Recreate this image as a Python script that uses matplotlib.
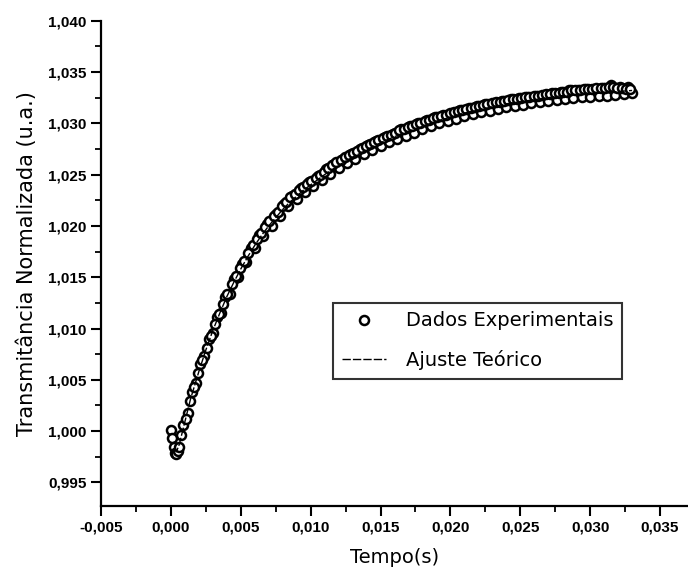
import matplotlib
matplotlib.use('Agg')
import matplotlib.pyplot as plt
from matplotlib.ticker import MultipleLocator, FuncFormatter

t_dados = [0.0000, 0.0001, 0.0002, 0.0003, 0.0004, 0.0005,
           0.0006, 0.0009, 0.0012, 0.0015, 0.0018, 0.0021, 0.0024, 0.0027, 0.0030,
           0.0033, 0.0036, 0.0039, 0.0042, 0.0045, 0.0048, 0.0051, 0.0054, 0.0057,
           0.0060, 0.0063, 0.0066, 0.0069, 0.0072, 0.0075, 0.0078, 0.0081, 0.0084,
           0.0087, 0.0090, 0.0093, 0.0096, 0.0099, 0.0102, 0.0105, 0.0108, 0.0111,
           0.0114, 0.0117, 0.0120, 0.0123, 0.0126, 0.0129, 0.0132, 0.0135, 0.0138,
           0.0141, 0.0144, 0.0147, 0.0150, 0.0153, 0.0156, 0.0159, 0.0162, 0.0165,
           0.0168, 0.0171, 0.0174, 0.0177, 0.0180, 0.0183, 0.0186, 0.0189, 0.0192,
           0.0195, 0.0198, 0.0201, 0.0204, 0.0207, 0.0210, 0.0213, 0.0216, 0.0219,
           0.0222, 0.0225, 0.0228, 0.0231, 0.0234, 0.0237, 0.0240, 0.0243, 0.0246,
           0.0249, 0.0252, 0.0255, 0.0258, 0.0261, 0.0264, 0.0267, 0.0270, 0.0273,
           0.0276, 0.0279, 0.0282, 0.0285, 0.0288, 0.0291, 0.0294, 0.0297, 0.0300,
           0.0303, 0.0306, 0.0309, 0.0312, 0.0315, 0.0318, 0.0321, 0.0324, 0.0327,
           0.0330]
y_dados = [1.0001, 0.9993, 0.9985, 0.9979, 0.9978, 0.9981,
           0.9985, 1.0006, 1.0018, 1.0038, 1.0047, 1.0065, 1.0073, 1.0090, 1.0096,
           1.0111, 1.0115, 1.0131, 1.0134, 1.0148, 1.0150, 1.0163, 1.0165, 1.0178,
           1.0178, 1.0191, 1.0190, 1.0202, 1.0200, 1.0212, 1.0210, 1.0221, 1.0219,
           1.0229, 1.0226, 1.0237, 1.0233, 1.0243, 1.0239, 1.0249, 1.0245, 1.0255,
           1.0251, 1.0260, 1.0256, 1.0265, 1.0261, 1.0270, 1.0265, 1.0275, 1.0270,
           1.0279, 1.0274, 1.0283, 1.0278, 1.0287, 1.0282, 1.0290, 1.0285, 1.0294,
           1.0288, 1.0297, 1.0291, 1.0300, 1.0294, 1.0303, 1.0297, 1.0306, 1.0300,
           1.0308, 1.0302, 1.0310, 1.0304, 1.0313, 1.0307, 1.0315, 1.0309, 1.0317,
           1.0311, 1.0319, 1.0312, 1.0320, 1.0314, 1.0322, 1.0316, 1.0324, 1.0317,
           1.0325, 1.0318, 1.0326, 1.0320, 1.0327, 1.0321, 1.0328, 1.0322, 1.0330,
           1.0323, 1.0331, 1.0324, 1.0332, 1.0325, 1.0332, 1.0326, 1.0333, 1.0326,
           1.0333, 1.0327, 1.0334, 1.0327, 1.0337, 1.0328, 1.0335, 1.0329, 1.0335,
           1.0330]

t_dados_b = [0.00075, 0.00105, 0.00135, 0.00165, 0.00195, 0.00225, 0.00255, 0.00285,
             0.00315, 0.00345, 0.00375, 0.00405, 0.00435, 0.00465, 0.00495, 0.00525,
             0.00555, 0.00585, 0.00615, 0.00645, 0.00675, 0.00705, 0.00735, 0.00765,
             0.00795, 0.00825, 0.00855, 0.00885, 0.00915, 0.00945, 0.00975, 0.01005,
             0.01035, 0.01065, 0.01095, 0.01125, 0.01155, 0.01185, 0.01215, 0.01245,
             0.01275, 0.01305, 0.01335, 0.01365, 0.01395, 0.01425, 0.01455, 0.01485,
             0.01515, 0.01545, 0.01575, 0.01605, 0.01635, 0.01665, 0.01695, 0.01725,
             0.01755, 0.01785, 0.01815, 0.01845, 0.01875, 0.01905, 0.01935, 0.01965,
             0.01995, 0.02025, 0.02055, 0.02085, 0.02115, 0.02145, 0.02175, 0.02205,
             0.02235, 0.02265, 0.02295, 0.02325, 0.02355, 0.02385, 0.02415, 0.02445,
             0.02475, 0.02505, 0.02535, 0.02565, 0.02595, 0.02625, 0.02655, 0.02685,
             0.02715, 0.02745, 0.02775, 0.02805, 0.02835, 0.02865, 0.02895, 0.02925,
             0.02955, 0.02985, 0.03015, 0.03045, 0.03075, 0.03105, 0.03135, 0.03165,
             0.03195, 0.03225, 0.03255, 0.03285]
y_dados_b = [0.9996, 1.0012, 1.0029, 1.0043, 1.0057, 1.0069, 1.0081, 1.0093,
             1.0104, 1.0114, 1.0124, 1.0134, 1.0143, 1.0151, 1.0159, 1.0166,
             1.0174, 1.0181, 1.0187, 1.0193, 1.0199, 1.0205, 1.0210, 1.0214,
             1.0219, 1.0223, 1.0228, 1.0231, 1.0235, 1.0238, 1.0241, 1.0244,
             1.0247, 1.0250, 1.0253, 1.0256, 1.0259, 1.0262, 1.0264, 1.0267,
             1.0269, 1.0271, 1.0273, 1.0276, 1.0278, 1.0280, 1.0282, 1.0284,
             1.0286, 1.0288, 1.0289, 1.0291, 1.0293, 1.0294, 1.0296, 1.0297,
             1.0299, 1.0300, 1.0302, 1.0303, 1.0305, 1.0306, 1.0307, 1.0308,
             1.0310, 1.0311, 1.0312, 1.0313, 1.0314, 1.0315, 1.0316, 1.0317,
             1.0318, 1.0319, 1.0320, 1.0321, 1.0321, 1.0322, 1.0323, 1.0324,
             1.0324, 1.0325, 1.0326, 1.0326, 1.0327, 1.0327, 1.0328, 1.0329,
             1.0329, 1.0330, 1.0330, 1.0331, 1.0331, 1.0332, 1.0332, 1.0332,
             1.0333, 1.0333, 1.0333, 1.0334, 1.0334, 1.0334, 1.0335, 1.0335,
             1.0334, 1.0334, 1.0333, 1.0333]

# theoretical fit
t_ajuste = [0.0002, 0.0004, 0.0006, 0.0008, 0.0010, 0.0012, 0.0014, 0.0016, 0.0018,
            0.0020, 0.0025, 0.0030, 0.0035, 0.0040, 0.0045, 0.0050, 0.0055, 0.0060,
            0.0065, 0.0070, 0.0075, 0.0080, 0.0085, 0.0090, 0.0095, 0.0100, 0.0110,
            0.0120, 0.0130, 0.0140, 0.0150, 0.0160, 0.0170, 0.0180, 0.0190, 0.0200,
            0.0210, 0.0220, 0.0230, 0.0240, 0.0250, 0.0260, 0.0270, 0.0280, 0.0290,
            0.0300, 0.0310, 0.0320, 0.0330]
y_ajuste = [0.9983, 0.9980, 0.9987, 0.9998, 1.0009, 1.0020, 1.0031, 1.0040, 1.0049,
            1.0058, 1.0079, 1.0098, 1.0115, 1.0131, 1.0145, 1.0158, 1.0170, 1.0181,
            1.0191, 1.0200, 1.0208, 1.0216, 1.0223, 1.0229, 1.0235, 1.0240, 1.0250,
            1.0259, 1.0267, 1.0274, 1.0281, 1.0287, 1.0292, 1.0297, 1.0302, 1.0306,
            1.0310, 1.0313, 1.0316, 1.0319, 1.0321, 1.0323, 1.0325, 1.0327, 1.0328,
            1.0329, 1.0330, 1.0331, 1.0332]

plt.rcParams['font.family'] = ['Liberation Sans Narrow', 'Liberation Sans', 'DejaVu Sans']

fig = plt.figure(figsize=(6.88, 5.85), dpi=100)
ax = fig.add_axes([0.1468, 0.135, 0.8532, 0.8296])

marker_style = dict(linestyle='none', marker='o', markersize=6.5,
                    markerfacecolor='white', markeredgecolor='black', markeredgewidth=1.8)
ax.plot(t_dados, y_dados, label='Dados Experimentais', **marker_style)
ax.plot(t_dados_b, y_dados_b, **marker_style)
ax.plot(t_ajuste, y_ajuste, color='black', linewidth=1.0, linestyle=(0, (6, 1.5)),
        label='Ajuste Teórico')

ax.set_xlim(-0.005, 0.037)
ax.set_ylim(0.9927, 1.040)

ax.xaxis.set_major_locator(MultipleLocator(0.005))
ax.xaxis.set_minor_locator(MultipleLocator(0.0025))
ax.yaxis.set_major_locator(MultipleLocator(0.005))
ax.yaxis.set_minor_locator(MultipleLocator(0.0025))

fmt = FuncFormatter(lambda v, p: ('%.3f' % v).replace('.', ','))
ax.xaxis.set_major_formatter(fmt)
ax.yaxis.set_major_formatter(fmt)

for s in ['top', 'right']:
    ax.spines[s].set_visible(False)
for s in ['left', 'bottom']:
    ax.spines[s].set_linewidth(1.6)

ax.tick_params(which='major', direction='out', length=7, width=1.5, labelsize=11)
ax.tick_params(which='minor', direction='out', length=4, width=1.3)
for lab in ax.get_xticklabels() + ax.get_yticklabels():
    lab.set_fontweight('bold')

ax.set_xlabel('Tempo(s)', fontsize=14, labelpad=10, family='DejaVu Sans')
ax.set_ylabel('Transmitância Normalizada (u.a.)', fontsize=15, labelpad=8,
              family='DejaVu Sans')

leg = ax.legend(loc='upper left', bbox_to_anchor=(0.395, 0.419), borderaxespad=0,
                frameon=True, fancybox=False, edgecolor='black',
                prop={'family': 'DejaVu Sans', 'size': 14},
                handlelength=2.3, handletextpad=1.0, borderpad=0.45, labelspacing=1.0)
leg.get_frame().set_linewidth(1.5)

fig.savefig('out.png', dpi=100)
